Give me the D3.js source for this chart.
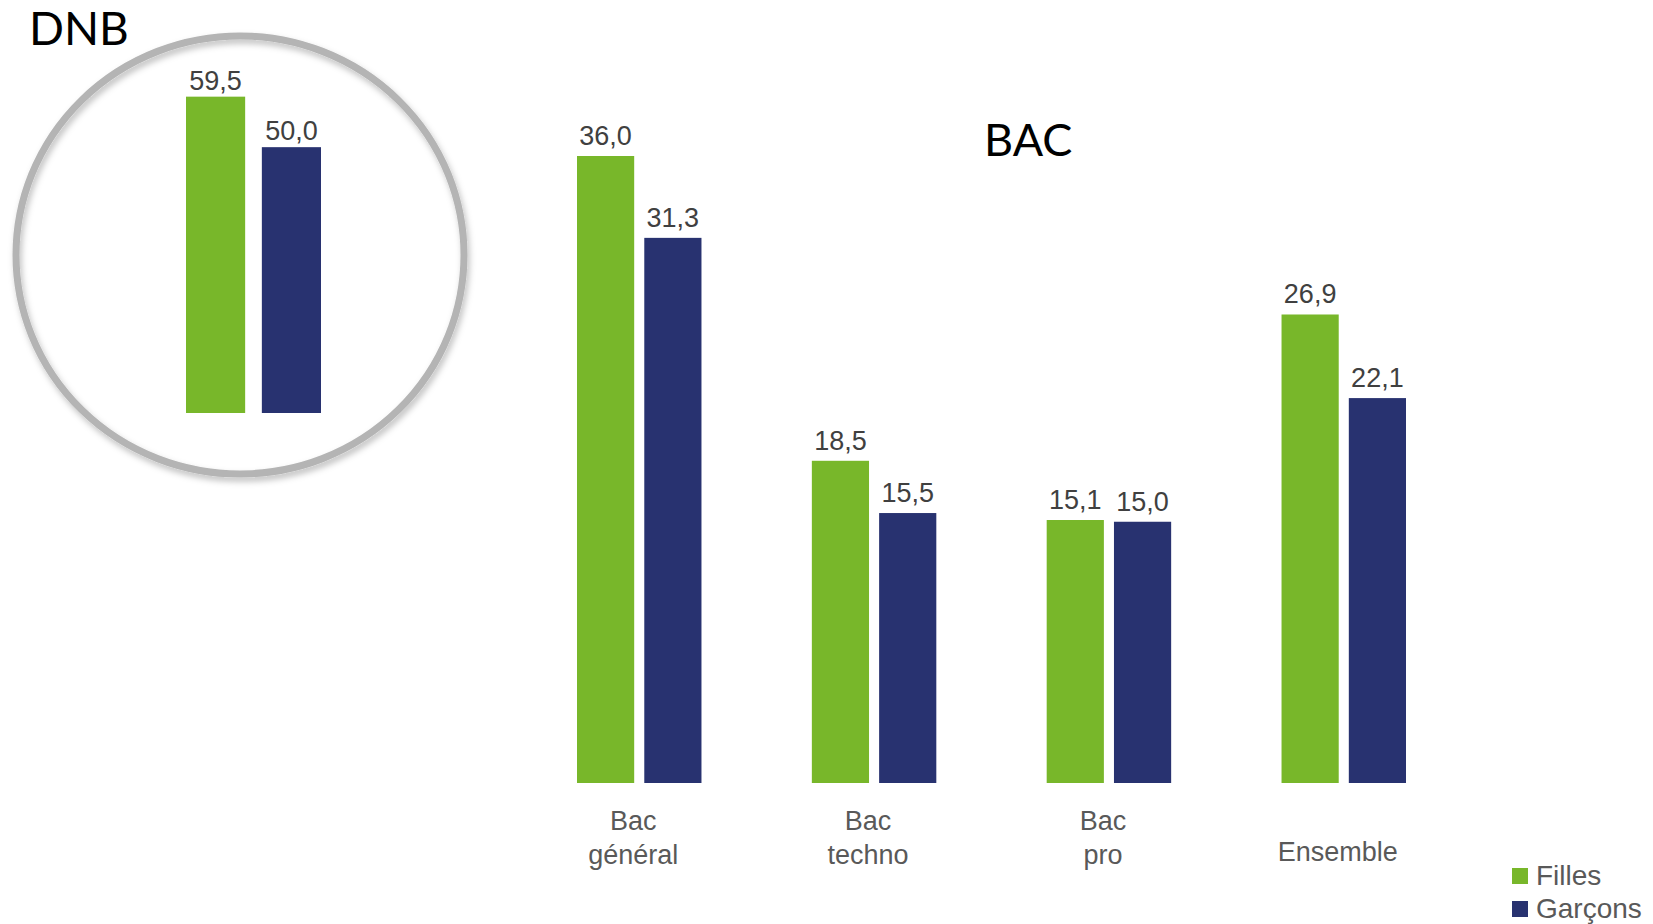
<!DOCTYPE html>
<html>
<head>
<meta charset="utf-8">
<script src="https://cdn.jsdelivr.net/npm/d3@7"></script>
<style>
  body { margin: 0; background: #fff; }
  text { font-family: "Liberation Sans", Arial, sans-serif; }
  .title { font-family: Lato, "Open Sans", sans-serif; fill: #000; }
</style>
</head>
<body>
<div id="chart"></div>
<script>
const width = 1653;
const height = 924;
const colorFilles = '#78b72a';
const colorGarcons = '#283270';

// data
const series = ["Filles", "Garçons"];
const dnbValues = [59.5, 50.0];
const bacCategories = ["Bac général", "Bac techno", "Bac pro", "Ensemble"];
const bacLabels = [["Bac", "général"], ["Bac", "techno"], ["Bac", "pro"], ["Ensemble"]];
const bacFilles = [36.0, 18.5, 15.1, 26.9];
const bacGarcons = [31.3, 15.5, 15.0, 22.1];

const color = d3.scaleOrdinal().domain(series).range([colorFilles, colorGarcons]);
const fr = d3.formatLocale({decimal: ",", thousands: " ", grouping: [3], currency: ["", " €"]});
const fmt = fr.format(".1f");

var svg = d3.select("#chart").append("svg")
    .attr("width", width)
    .attr("height", height)
    .attr("viewBox", "0 0 " + width + " " + height);

var defs = svg.append("defs");
var shadow = defs.append("filter").attr("id", "shadow")
    .attr("x", "-10%").attr("y", "-10%").attr("width", "120%").attr("height", "120%");
shadow.append("feDropShadow")
    .attr("dx", 2).attr("dy", 4).attr("stdDeviation", 3)
    .attr("flood-color", "#000").attr("flood-opacity", 0.25);

// ---- DNB panel ----
svg.append("ellipse")
    .attr("cx", 240).attr("cy", 255)
    .attr("rx", 224).attr("ry", 219)
    .attr("fill", "none")
    .attr("stroke", "#b4b4b4")
    .attr("stroke-width", 7)
    .attr("filter", "url(#shadow)");

svg.append("text").attr("class", "title")
    .attr("x", 29).attr("y", 45)
    .attr("font-size", 46)
    .text("DNB");

var dnbX = d3.scaleBand().domain(series).range([186, 321]).paddingInner(0.22);
var dnbY = d3.scaleLinear().domain([0, 60]).range([413, 94]);
var dnbData = series.map(function(s, i) { return {serie: s, value: dnbValues[i]}; });

svg.append("g").selectAll("rect")
    .data(dnbData)
    .join("rect")
    .attr("x", function(d) { return dnbX(d.serie); })
    .attr("y", function(d) { return dnbY(d.value); })
    .attr("width", dnbX.bandwidth())
    .attr("height", function(d) { return dnbY(0) - dnbY(d.value); })
    .attr("fill", function(d) { return color(d.serie); });

svg.append("g").selectAll("text")
    .data(dnbData)
    .join("text")
    .attr("x", function(d) { return dnbX(d.serie) + dnbX.bandwidth() / 2; })
    .attr("y", function(d) { return dnbY(d.value) - 7; })
    .attr("text-anchor", "middle")
    .attr("font-size", 27)
    .attr("fill", "#404040")
    .text(function(d) { return fmt(d.value); });

// ---- BAC panel ----
svg.append("text").attr("class", "title")
    .attr("x", 984).attr("y", 156)
    .attr("font-size", 45)
    .text("BAC");

var bacX = d3.scaleBand().domain(bacCategories).range([577, 1406]).paddingInner(0.47).paddingOuter(0);
var bacSub = d3.scaleBand().domain(series).range([0, bacX.bandwidth()]).paddingInner(0.15);
var bacY = d3.scaleLinear().domain([0, 36]).range([783, 156]);

var bacData = [];
bacCategories.forEach(function(c, i) {
    bacData.push({cat: c, serie: "Filles", value: bacFilles[i]});
    bacData.push({cat: c, serie: "Garçons", value: bacGarcons[i]});
});

svg.append("g").selectAll("rect")
    .data(bacData)
    .join("rect")
    .attr("x", function(d) { return bacX(d.cat) + bacSub(d.serie); })
    .attr("y", function(d) { return bacY(d.value); })
    .attr("width", bacSub.bandwidth())
    .attr("height", function(d) { return bacY(0) - bacY(d.value); })
    .attr("fill", function(d) { return color(d.serie); });

svg.append("g").selectAll("text")
    .data(bacData)
    .join("text")
    .attr("x", function(d) { return bacX(d.cat) + bacSub(d.serie) + bacSub.bandwidth() / 2; })
    .attr("y", function(d) { return bacY(d.value) - 11; })
    .attr("text-anchor", "middle")
    .attr("font-size", 27)
    .attr("fill", "#404040")
    .text(function(d) { return fmt(d.value); });

// category labels (one or two lines)
var catLabels = svg.append("g").selectAll("text")
    .data(bacCategories)
    .join("text")
    .attr("x", function(d) { return bacX(d) + bacX.bandwidth() / 2 - 6; })
    .attr("y", function(d, i) { return bacLabels[i].length > 1 ? 830 : 861; })
    .attr("text-anchor", "middle")
    .attr("font-size", 27)
    .attr("fill", "#595959");
catLabels.each(function(d, i) {
    var t = d3.select(this);
    bacLabels[i].forEach(function(line, j) {
        t.append("tspan")
            .attr("x", t.attr("x"))
            .attr("dy", j == 0 ? 0 : 34)
            .text(line);
    });
});

// legend
var legend = svg.append("g").attr("transform", "translate(1512, 868)");
var items = legend.selectAll("g")
    .data(series)
    .join("g")
    .attr("transform", function(d, i) { return "translate(0," + (i * 33) + ")"; });
items.append("rect")
    .attr("width", 16).attr("height", 16)
    .attr("fill", function(d) { return color(d); });
items.append("text")
    .attr("x", 24).attr("y", 17)
    .attr("font-size", 28)
    .attr("fill", "#595959")
    .text(function(d) { return d; });
</script>
</body>
</html>
